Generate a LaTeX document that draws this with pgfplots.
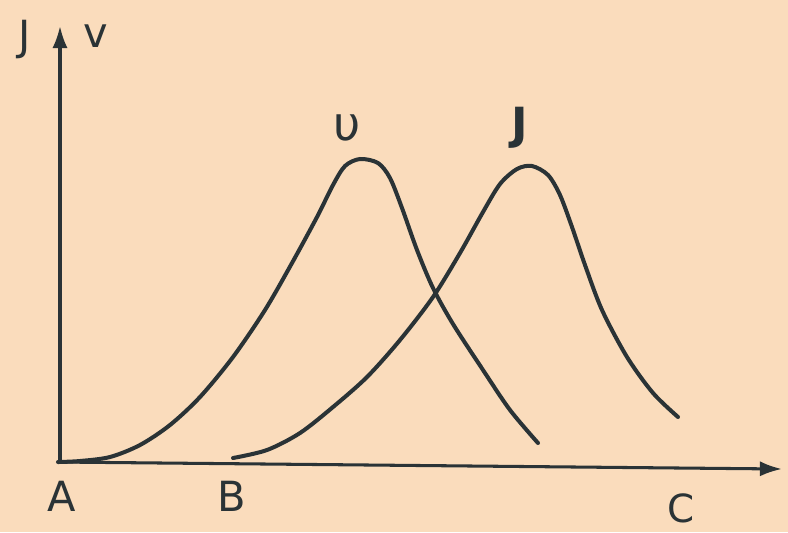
\documentclass[border=0pt]{standalone}
\usepackage{pgfplots}
\pgfplotsset{compat=1.18}
\usepackage{fontspec}
\setmainfont{DejaVu Sans}
\usetikzlibrary{arrows.meta}
\definecolor{paper}{HTML}{FADCBC}
\definecolor{ink}{HTML}{2A3336}

\begin{document}
\begin{tikzpicture}
\begin{axis}[
  width=20cm, height=13.503cm, scale only axis,
  xmin=0, xmax=788, ymin=0, ymax=532, y dir=reverse,
  hide axis, clip=true,
  curve/.style={ink, no markers, line width=2.9pt, smooth, line cap=round},
  axisline/.style={ink, no markers, line width=2.2pt, sharp plot, -{Latex[length=16pt,width=11pt]}},
]
% paper background
\addplot[fill=paper, draw=none, no markers, sharp plot] coordinates {(0,0) (788,0) (788,532) (0,532)} -- cycle;
% axes
\addplot[axisline] coordinates {(60,464) (60,26)};
\addplot[axisline] coordinates {(58,462) (782,469)};
% v curve
\addplot[curve] coordinates {
  (58,462) (80,461) (110,457) (140,445) (170,425) (200,397) (233,357)
  (265,310) (292,263) (317,217) (333,185) (345,166) (360,159) (378,163)
  (390,178) (402,208) (417,250) (433,288) (453,324) (483,370) (510,410) (538,443)
};
% J curve
\addplot[curve] coordinates {
  (233,458) (267,450) (300,433) (333,407) (367,377) (400,340) (433,297)
  (460,253) (483,212) (500,184) (517,169) (532,166) (548,175) (560,195)
  (572,227) (585,265) (602,310) (627,357) (653,393) (678,417)
};
% labels
\node[ink, font=\fontsize{30}{36}\selectfont] at (axis cs:25,40) {J};
\node[ink, font=\fontsize{30}{36}\selectfont] at (axis cs:96,36) {v};
\node[ink, font=\fontsize{34}{40}\selectfont] at (axis cs:347,128) {υ};
\node[ink, font=\bfseries\fontsize{32}{38}\selectfont] at (axis cs:520,128) {J};
\node[ink, font=\fontsize{30}{36}\selectfont] at (axis cs:62,496) {A};
\node[ink, font=\fontsize{30}{36}\selectfont] at (axis cs:232,496) {B};
\node[ink, font=\fontsize{28}{34}\selectfont] at (axis cs:681,508) {C};
\end{axis}
\end{tikzpicture}
\end{document}
